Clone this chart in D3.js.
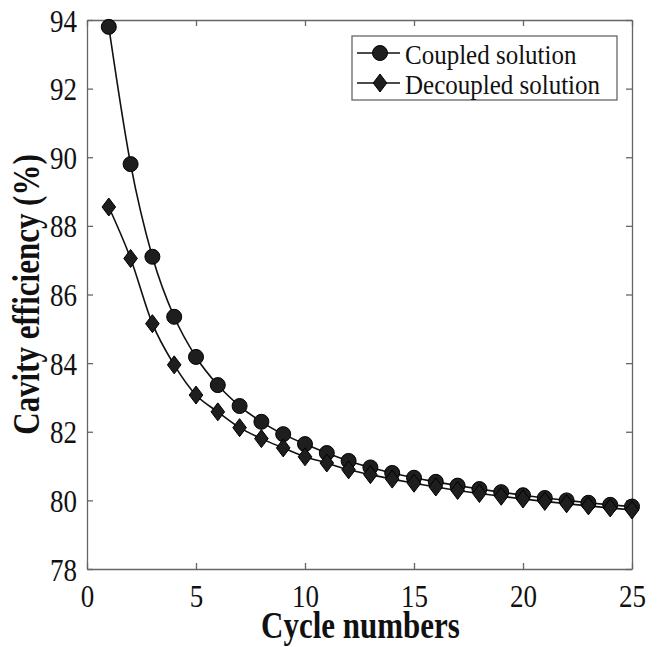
<!DOCTYPE html>
<html>
<head>
<meta charset="utf-8">
<script src="https://cdn.jsdelivr.net/npm/d3@7"></script>
<style>
  body { margin: 0; background: #fff; }
</style>
</head>
<body>
<div id="graph"></div>
<script>
// Data
var cycles    = [1, 2, 3, 4, 5, 6, 7, 8, 9, 10, 11, 12, 13, 14, 15, 16, 17, 18, 19, 20, 21, 22, 23, 24, 25];
var coupled   = [93.8, 89.8, 87.1, 85.35, 84.18, 83.36, 82.75, 82.29, 81.93, 81.64, 81.38, 81.15, 80.96, 80.8,
                 80.66, 80.54, 80.43, 80.33, 80.24, 80.15, 80.07, 80.0, 79.93, 79.87, 79.82];
var decoupled = [88.55, 87.05, 85.15, 83.95, 83.07, 82.58, 82.12, 81.8, 81.53, 81.27, 81.09, 80.89, 80.75, 80.62,
                 80.5, 80.39, 80.29, 80.2, 80.12, 80.04, 79.97, 79.9, 79.84, 79.78, 79.72];
var xTicks    = [0, 5, 10, 15, 20, 25];
var yTicks    = [78, 80, 82, 84, 86, 88, 90, 92, 94];
var seriesNames = ['Coupled solution', 'Decoupled solution'];

var W = 659, H = 647;
var margin = { top: 20, right: 27, bottom: 78, left: 87 };
var width  = W - margin.left - margin.right;
var height = H - margin.top - margin.bottom;

var fontFam = 'Liberation Serif';
var textColor = '#111';

// the reference's type is a bit stretched vertically
var tickStretch = 1.18;
var titleStretch = 1.22;

var xScale = d3.scaleLinear().domain([0, 25]).range([0, width]);
var yScale = d3.scaleLinear().domain([78, 94]).range([height, 0]);

var svg = d3.select('div#graph')
            .append('svg')
            .attr('width', W)
            .attr('height', H)
            .append('g')
            .attr('transform', 'translate(' + margin.left + ',' + margin.top + ')');

var axisColor = '#666';

// Axes (ticks pointing inward, box on top and right)
var xAxis = d3.axisBottom(xScale).tickValues(xTicks).tickSizeInner(-6).tickSizeOuter(0);
var yAxis = d3.axisLeft(yScale).tickValues(yTicks).tickSizeInner(-6).tickSizeOuter(0);

var gx = svg.append('g').attr('transform', 'translate(0,' + height + ')').call(xAxis);
var gy = svg.append('g').call(yAxis);
var gxTop = svg.append('g').call(d3.axisTop(xScale).tickValues(xTicks).tickSizeInner(-6).tickSizeOuter(0).tickFormat(''));
var gyRight = svg.append('g').attr('transform', 'translate(' + width + ',0)')
                 .call(d3.axisRight(yScale).tickValues(yTicks).tickSizeInner(-6).tickSizeOuter(0).tickFormat(''));

[gx, gy, gxTop, gyRight].forEach(function (g) {
    g.attr('font-family', fontFam).attr('font-size', 27);
    g.selectAll('path, line').attr('stroke', axisColor).attr('stroke-width', 1.3);
    g.selectAll('text').attr('fill', textColor);
});
gx.selectAll('.tick text')
  .attr('x', null).attr('y', null).attr('dy', null)
  .attr('transform', 'translate(0,38) scale(1,' + tickStretch + ')');
gy.selectAll('.tick text')
  .attr('x', null).attr('y', null).attr('dy', null)
  .attr('transform', 'translate(-10,11) scale(1,' + tickStretch + ')');

// Titles
svg.append('text')
   .attr('font-family', fontFam)
   .attr('font-size', 31)
   .attr('font-weight', 'bold')
   .attr('fill', textColor)
   .attr('text-anchor', 'middle')
   .attr('transform', 'translate(' + (width / 2 + 1) + ',' + (height + 69) + ') scale(1,' + titleStretch + ')')
   .text('Cycle numbers');

svg.append('text')
   .attr('font-family', fontFam)
   .attr('font-size', 31)
   .attr('font-weight', 'bold')
   .attr('fill', textColor)
   .attr('text-anchor', 'middle')
   .attr('transform', 'translate(' + (39 - margin.left) + ',' + (height / 2) + ') rotate(-90) scale(1,' + titleStretch + ')')
   .text('Cavity efficiency (%)');

// Lines and markers
var dataC = cycles.map(function (c, i) { return { x: c, y: coupled[i] }; });
var dataD = cycles.map(function (c, i) { return { x: c, y: decoupled[i] }; });

var line = d3.line()
             .x(function (d) { return xScale(d.x); })
             .y(function (d) { return yScale(d.y); })
             .curve(d3.curveMonotoneX);

var diamond = {
    draw: function (ctx, size) {
        ctx.moveTo(0, -9);
        ctx.lineTo(6.8, 0);
        ctx.lineTo(0, 9);
        ctx.lineTo(-6.8, 0);
        ctx.closePath();
    }
};
var diamondPath = d3.symbol().type(diamond)();
var markerFill = '#1e1e1e';

svg.append('path').datum(dataC).attr('d', line)
   .attr('fill', 'none').attr('stroke', '#111').attr('stroke-width', 1.6);
svg.append('path').datum(dataD).attr('d', line)
   .attr('fill', 'none').attr('stroke', '#111').attr('stroke-width', 1.6);

svg.selectAll('.dotC').data(dataC).enter().append('circle')
   .attr('class', 'dotC')
   .attr('cx', function (d) { return xScale(d.x); })
   .attr('cy', function (d) { return yScale(d.y); })
   .attr('r', 7.5)
   .attr('fill', markerFill).attr('stroke', '#000').attr('stroke-width', 1);

svg.selectAll('.dotD').data(dataD).enter().append('path')
   .attr('class', 'dotD')
   .attr('d', diamondPath)
   .attr('transform', function (d) { return 'translate(' + xScale(d.x) + ',' + yScale(d.y) + ')'; })
   .attr('fill', markerFill).attr('stroke', '#000').attr('stroke-width', 1);

// Legend
var lg = svg.append('g').attr('transform', 'translate(' + (352 - margin.left) + ',' + (36 - margin.top) + ')');
lg.append('rect').attr('width', 265).attr('height', 64)
  .attr('fill', '#fff').attr('stroke', axisColor).attr('stroke-width', 1.3);

seriesNames.forEach(function (name, i) {
    var cy = 17 + i * 30;
    lg.append('line').attr('x1', 5).attr('x2', 48).attr('y1', cy).attr('y2', cy)
      .attr('stroke', '#111').attr('stroke-width', 1.6);
    if (i === 0) {
        lg.append('circle').attr('cx', 28).attr('cy', cy).attr('r', 7.5)
          .attr('fill', markerFill).attr('stroke', '#000');
    } else {
        lg.append('path').attr('d', diamondPath).attr('transform', 'translate(28,' + cy + ')')
          .attr('fill', markerFill).attr('stroke', '#000');
    }
    lg.append('text')
      .attr('font-family', fontFam)
      .attr('font-size', 25)
      .attr('fill', textColor)
      .attr('transform', 'translate(53,' + (cy + 11) + ') scale(1,1.1)')
      .text(name);
});
</script>
</body>
</html>
